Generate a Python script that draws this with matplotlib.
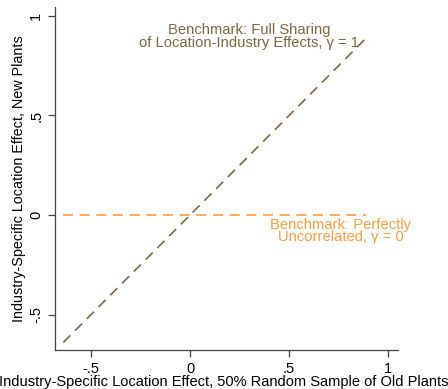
import matplotlib
matplotlib.use("Agg")
import matplotlib.pyplot as plt

# benchmark lines
diag_x = [-0.64, 0.89]
diag_y = [-0.64, 0.89]
flat_x = [-0.64, 0.89]
flat_y = [0.0, 0.0]

xticks = [-0.5, 0, 0.5, 1]
xtick_labels = ["-.5", "0", ".5", "1"]
yticks = [-0.5, 0, 0.5, 1]
ytick_labels = ["-.5", "0", ".5", "1"]

brown = "#7a6944"
orange = "#ff9c45"

plt.rcParams['font.family'] = ['Liberation Sans', 'DejaVu Sans']

fig = plt.figure(figsize=(4.48, 3.89), dpi=100)
ax = fig.add_axes([55 / 448, 1 - 350 / 389, (398 - 55) / 448, (350 - 7) / 389])

ax.plot(diag_x, diag_y, color=brown, lw=1.2, dashes=(6, 4))
ax.plot(flat_x, flat_y, color=orange, lw=1.2, dashes=(6, 4))

ax.text(0.30, 0.895, "Benchmark: Full Sharing\nof Location-Industry Effects, \u03b3 = 1",
        color=brown, fontsize=10.6, ha="center", va="center", linespacing=0.9)
ax.text(0.76, -0.08, "Benchmark: Perfectly\nUncorrelated, \u03b3 = 0",
        color=orange, fontsize=10.6, ha="center", va="center", linespacing=0.9)

ax.set_xlim(-0.682, 1.05)
ax.set_ylim(-0.678, 1.045)
ax.set_xticks(xticks)
ax.set_xticklabels(xtick_labels)
ax.set_yticks(yticks)
ax.set_yticklabels(ytick_labels, rotation=90, va="center")

for s in ["top", "right"]:
    ax.spines[s].set_visible(False)
for s in ["left", "bottom"]:
    ax.spines[s].set_color("#444444")
    ax.spines[s].set_linewidth(0.9)
ax.tick_params(colors="#444444", labelcolor="black", labelsize=10.5, length=5, width=0.9)

fig.text(0.5, 1 - 382 / 389, "Industry-Specific Location Effect, 50% Random Sample of Old Plants",
         fontsize=10.5, ha="center", va="center")
ax.set_ylabel("Industry-Specific Location Effect, New Plants", fontsize=10.4, labelpad=2)

fig.savefig("out.png", dpi=100)
